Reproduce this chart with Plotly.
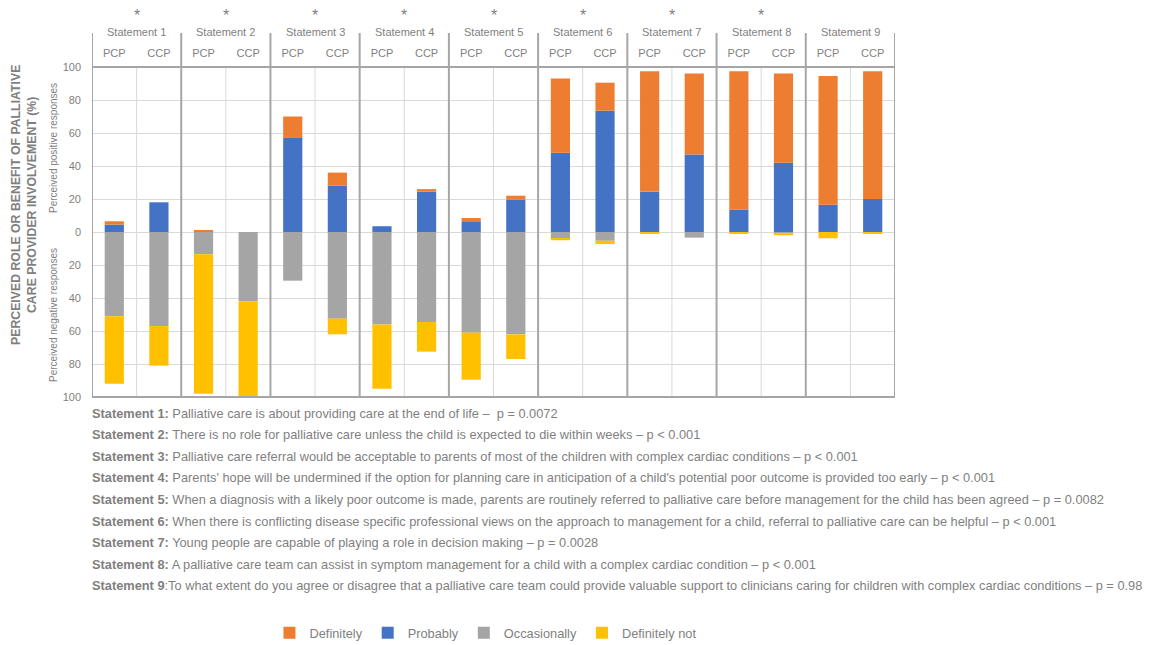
import plotly.graph_objects as go

statements = [f"Statement {i}" for i in range(1, 10)]
groups = ["PCP", "CCP"]
significant = [True, True, True, True, True, True, True, True, False]

# values per bar: order S1 PCP, S1 CCP, S2 PCP, ...
definitely = [2, 0, 1, 0, 13, 8, 0, 1.5, 2, 2.5, 45, 17, 73, 49, 84, 54, 78, 77.5]
probably = [4.5, 18, 0, 0, 57, 28, 3.5, 24.5, 6.5, 19.5, 48, 73.5, 24.5, 47, 13.5, 42, 16.5, 20]
occasionally = [51, 57, 13.5, 42, 29.5, 52.5, 56, 54.5, 61, 62, 3.8, 5.3, 0, 3.4, 0, 0.8, 0, 0]
definitely_not = [41, 24, 84.5, 57.5, 0, 9.5, 39, 18, 28.5, 15, 1.2, 2, 1, 0, 1, 1.2, 3.8, 1]

descriptions = [
    ("Statement 1:", " Palliative care is about providing care at the end of life –  p = 0.0072"),
    ("Statement 2:", " There is no role for palliative care unless the child is expected to die within weeks – p < 0.001"),
    ("Statement 3:", " Palliative care referral would be acceptable to parents of most of the children with complex cardiac conditions – p < 0.001"),
    ("Statement 4:", " Parents' hope will be undermined if the option for planning care in anticipation of a child's potential poor outcome is provided too early – p < 0.001"),
    ("Statement 5:", " When a diagnosis with a likely poor outcome is made, parents are routinely referred to palliative care before management for the child has been agreed – p = 0.0082"),
    ("Statement 6:", " When there is conflicting disease specific professional views on the approach to management for a child, referral to palliative care can be helpful – p < 0.001"),
    ("Statement 7:", " Young people are capable of playing a role in decision making – p = 0.0028"),
    ("Statement 8:", " A palliative care team can assist in symptom management for a child with a complex cardiac condition – p < 0.001"),
    ("Statement 9", ":To what extent do you agree or disagree that a palliative care team could provide valuable support to clinicians caring for children with complex cardiac conditions – p = 0.98"),
]

y_ticks = [-100, -80, -60, -40, -20, 0, 20, 40, 60, 80, 100]

FONT = "Arial, Liberation Sans, sans-serif"
GRAY = "#7f7f7f"
n = len(statements) * len(groups)
xs = list(range(n))
ticktext = [groups[i % 2] for i in xs]

fig = go.Figure()
fig.add_bar(x=xs, y=probably, name="Probably", marker_color="#4472C4", width=0.43, legendrank=2)
fig.add_bar(x=xs, y=definitely, name="Definitely", marker_color="#ED7D31", width=0.43, legendrank=1)
fig.add_bar(x=xs, y=[-v for v in occasionally], name="Occasionally", marker_color="#A5A5A5",
            width=0.43, legendrank=3)
fig.add_bar(x=xs, y=[-v for v in definitely_not], name="Definitely not", marker_color="#FFC000",
            width=0.43, legendrank=4)
for tr in fig.data:
    tr.marker.line = dict(width=0)

shapes = []
TOP = (397 - 33) / 330
for g in range(len(statements)):
    shapes.append(dict(type="line", xref="x", yref="paper", x0=2 * g + 0.5, x1=2 * g + 0.5,
                       y0=0, y1=1, line=dict(color="#d9d9d9", width=1), layer="below"))
for g in range(len(statements) + 1):
    xv = 2 * g - 0.5
    shapes.append(dict(type="line", xref="x", yref="paper", x0=xv, x1=xv,
                       y0=0, y1=TOP, line=dict(color="#a6a6a6", width=2)))
for yv in (0, 1):
    shapes.append(dict(type="line", xref="paper", yref="paper", x0=0, x1=1,
                       y0=yv, y1=yv, line=dict(color="#a6a6a6", width=2)))

annotations = []
for g, s in enumerate(statements):
    annotations.append(dict(x=2 * g + 0.5, y=(397 - 32) / 330, xref="x", yref="paper",
                            text=s, showarrow=False, font=dict(size=11, color=GRAY, family=FONT),
                            xanchor="center", yanchor="middle"))
    if significant[g]:
        annotations.append(dict(x=2 * g + 0.5, y=(397 - 15) / 330, xref="x", yref="paper",
                                text="*", showarrow=False, font=dict(size=16, color=GRAY, family=FONT),
                                xanchor="center", yanchor="middle"))

for i, (b, t) in enumerate(descriptions):
    py = 413 + 21.6 * i
    annotations.append(dict(x=-2 / 803, y=(397 - py) / 330, xref="paper", yref="paper",
                            text=f"<b>{b}</b>{t}", showarrow=False,
                            font=dict(size=12.8, color=GRAY, family=FONT),
                            xanchor="left", yanchor="middle", align="left"))

annotations.append(dict(x=(24 - 92) / 803, y=(397 - 205) / 330, xref="paper", yref="paper",
                        text="<b>PERCEIVED ROLE OR BENEFIT OF PALLIATIVE<br>CARE PROVIDER INVOLVEMENT (%)</b>",
                        textangle=-90, showarrow=False, font=dict(size=12.3, color=GRAY, family=FONT),
                        xanchor="center", yanchor="middle"))
annotations.append(dict(x=(53 - 92) / 803, y=(397 - 148) / 330, xref="paper", yref="paper",
                        text="Perceived positive responses", textangle=-90, showarrow=False,
                        font=dict(size=10, color=GRAY, family=FONT), xanchor="center", yanchor="middle"))
annotations.append(dict(x=(53 - 92) / 803, y=(397 - 315) / 330, xref="paper", yref="paper",
                        text="Perceived negative responses", textangle=-90, showarrow=False,
                        font=dict(size=10, color=GRAY, family=FONT), xanchor="center", yanchor="middle"))

fig.update_layout(
    width=1149, height=645,
    margin=dict(l=92, r=254, t=67, b=248, autoexpand=False),
    barmode="relative",
    plot_bgcolor="white", paper_bgcolor="white",
    font=dict(family=FONT, color=GRAY, size=11),
    shapes=shapes, annotations=annotations,
    legend=dict(orientation="h", x=0.49, xanchor="center", y=(397 - 633) / 330, yanchor="middle",
                font=dict(size=12.8, color=GRAY, family=FONT), traceorder="normal",
                itemwidth=30),
    xaxis=dict(range=[-0.5, n - 0.5], tickvals=xs, ticktext=ticktext, side="top",
               showgrid=False, zeroline=False, showline=False, ticks="",
               tickfont=dict(size=11, color=GRAY, family=FONT), ticklabelstandoff=7),
    yaxis=dict(range=[-100, 100], tickvals=y_ticks, ticktext=[str(abs(v)) for v in y_ticks],
               showgrid=True, gridcolor="#d9d9d9", gridwidth=1, zeroline=True,
               zerolinecolor="#d9d9d9", zerolinewidth=1, showline=False,
               tickfont=dict(size=11, color=GRAY, family=FONT), ticklabelstandoff=10),
)

fig.write_html("out.html")
